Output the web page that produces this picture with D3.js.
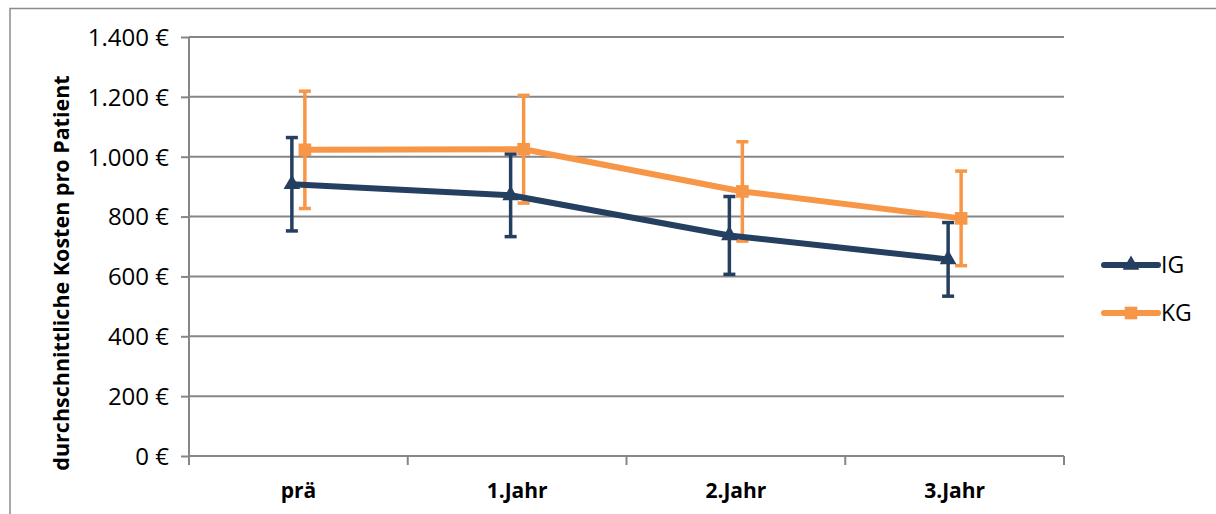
<!DOCTYPE html>
<html>
<head>
<meta charset="utf-8">
<script src="https://cdn.jsdelivr.net/npm/d3@7"></script>
<style>
  html, body { margin: 0; padding: 0; background: #fff; }
  svg { display: block; }
  text { font-family: "Open Sans", "Liberation Sans", sans-serif; fill: #000; }
</style>
</head>
<body>
<svg id="chart" width="1216" height="514"></svg>
<script>
const categories = ["prä", "1.Jahr", "2.Jahr", "3.Jahr"];
const seriesNames = ["IG", "KG"];
const igValues = [908, 871, 737, 657];
const igErrors = [156, 138, 130, 123];
const kgValues = [1023, 1025, 884, 794];
const kgErrors = [196, 180, 166, 158];
const yTicks = [0, 200, 400, 600, 800, 1000, 1200, 1400];
const yTitle = "durchschnittliche Kosten pro Patient";

const colors = { IG: "#253F60", KG: "#F79646" };
const series = [
  { name: seriesNames[0], values: igValues, errors: igErrors, offset: -6.5, marker: "triangle" },
  { name: seriesNames[1], values: kgValues, errors: kgErrors, offset: 6.5, marker: "square" }
];

const svg = d3.select("#chart");
const W = 1216, H = 514;
const plot = { left: 189, right: 1064, top: 37, bottom: 456 };

// outer border
svg.append("rect").attr("x", 10).attr("y", 8.5).attr("width", W + 10).attr("height", H + 10)
  .attr("fill", "none").attr("stroke", "#8c8c8c").attr("stroke-width", 1.5);

const x = d3.scaleBand().domain(categories).range([plot.left, plot.right]).padding(0);
const y = d3.scaleLinear().domain([0, 1400]).range([plot.bottom, plot.top]);

const fmt = v => d3.format(",")(v).replace(/,/g, ".") + " €";

// gridlines
svg.append("g").selectAll("line").data(yTicks.slice(1)).join("line")
  .attr("x1", plot.left).attr("x2", plot.right)
  .attr("y1", d => y(d)).attr("y2", d => y(d))
  .attr("stroke", "#868686").attr("stroke-width", 2);

// y axis
const yAxis = svg.append("g").attr("transform", `translate(${plot.left},0)`)
  .call(d3.axisLeft(y).tickValues(yTicks).tickSize(8).tickPadding(12).tickFormat(fmt));
yAxis.select(".domain").attr("stroke", "#868686").attr("stroke-width", 2).attr("d", `M0,${plot.top}V${plot.bottom + 8}`);
yAxis.selectAll(".tick line").attr("stroke", "#868686").attr("stroke-width", 2);
yAxis.selectAll(".tick text").attr("font-size", 24).attr("fill", "#000")
  .style("font-family", '"Open Sans", sans-serif').attr("dy", "0.35em");

// x axis
const xAxis = svg.append("g").attr("transform", `translate(0,${plot.bottom})`)
  .call(d3.axisBottom(x).tickSize(0).tickPadding(27));
xAxis.select(".domain").attr("stroke", "#868686").attr("stroke-width", 2).attr("d", `M${plot.left},0H${plot.right}`);
xAxis.selectAll(".tick text").attr("font-size", 21).attr("font-weight", "bold").attr("fill", "#000")
  .style("font-family", '"Open Sans", sans-serif');
// category boundary ticks
const bounds = categories.map(c => x(c)).concat([x(categories[categories.length - 1]) + x.bandwidth()]);
xAxis.append("g").selectAll("line").data(bounds).join("line")
  .attr("x1", d => d).attr("x2", d => d).attr("y1", 0).attr("y2", 9)
  .attr("stroke", "#868686").attr("stroke-width", 2);

// y title
svg.append("text")
  .attr("transform", `translate(69,273) rotate(-90)`)
  .attr("text-anchor", "middle").attr("font-size", 21.5).attr("font-weight", "bold")
  .text(yTitle);

const cx = (s, i) => x(categories[i]) + x.bandwidth() / 2 + s.offset;

// error bars
series.forEach(s => {
  const g = svg.append("g");
  const c = colors[s.name];
  const sw = 3.5;
  g.selectAll("line.v").data(s.values).join("line").attr("class", "v")
    .attr("x1", (d, i) => cx(s, i)).attr("x2", (d, i) => cx(s, i))
    .attr("y1", (d, i) => y(d + s.errors[i])).attr("y2", (d, i) => y(d - s.errors[i]))
    .attr("stroke", c).attr("stroke-width", sw);
  ["top", "bot"].forEach(k => {
    g.selectAll("line." + k).data(s.values).join("line").attr("class", k)
      .attr("x1", (d, i) => cx(s, i) - 6).attr("x2", (d, i) => cx(s, i) + 6)
      .attr("y1", (d, i) => y(k === "top" ? d + s.errors[i] : d - s.errors[i]))
      .attr("y2", (d, i) => y(k === "top" ? d + s.errors[i] : d - s.errors[i]))
      .attr("stroke", c).attr("stroke-width", sw);
  });
});

// lines and markers
series.forEach(s => {
  const c = colors[s.name];
  const line = d3.line().x((d, i) => cx(s, i)).y(d => y(d));
  svg.append("path").datum(s.values).attr("d", line)
    .attr("fill", "none").attr("stroke", c).attr("stroke-width", 6).attr("stroke-linejoin", "round");
  const sym = d3.symbol().type(s.marker === "triangle" ? d3.symbolTriangle : d3.symbolSquare)
    .size(s.marker === "triangle" ? 120 : 160);
  svg.append("g").selectAll("path").data(s.values).join("path")
    .attr("transform", (d, i) => `translate(${cx(s, i)},${y(d)})`)
    .attr("d", sym()).attr("fill", c);
});

// legend
const legend = svg.append("g");
const legY = [265, 313];
series.forEach((s, i) => {
  const c = colors[s.name];
  const g = legend.append("g").attr("transform", `translate(0,${legY[i]})`);
  g.append("line").attr("x1", 1104).attr("x2", 1158).attr("y1", 0).attr("y2", 0)
    .attr("stroke", c).attr("stroke-width", 6).attr("stroke-linecap", "round");
  const sym = d3.symbol().type(s.marker === "triangle" ? d3.symbolTriangle : d3.symbolSquare)
    .size(s.marker === "triangle" ? 120 : 160);
  g.append("path").attr("transform", "translate(1131,0)").attr("d", sym()).attr("fill", c);
  g.append("text").attr("x", 1161).attr("y", 0).attr("dy", "0.35em")
    .attr("font-size", 23).text(s.name);
});
</script>
</body>
</html>
